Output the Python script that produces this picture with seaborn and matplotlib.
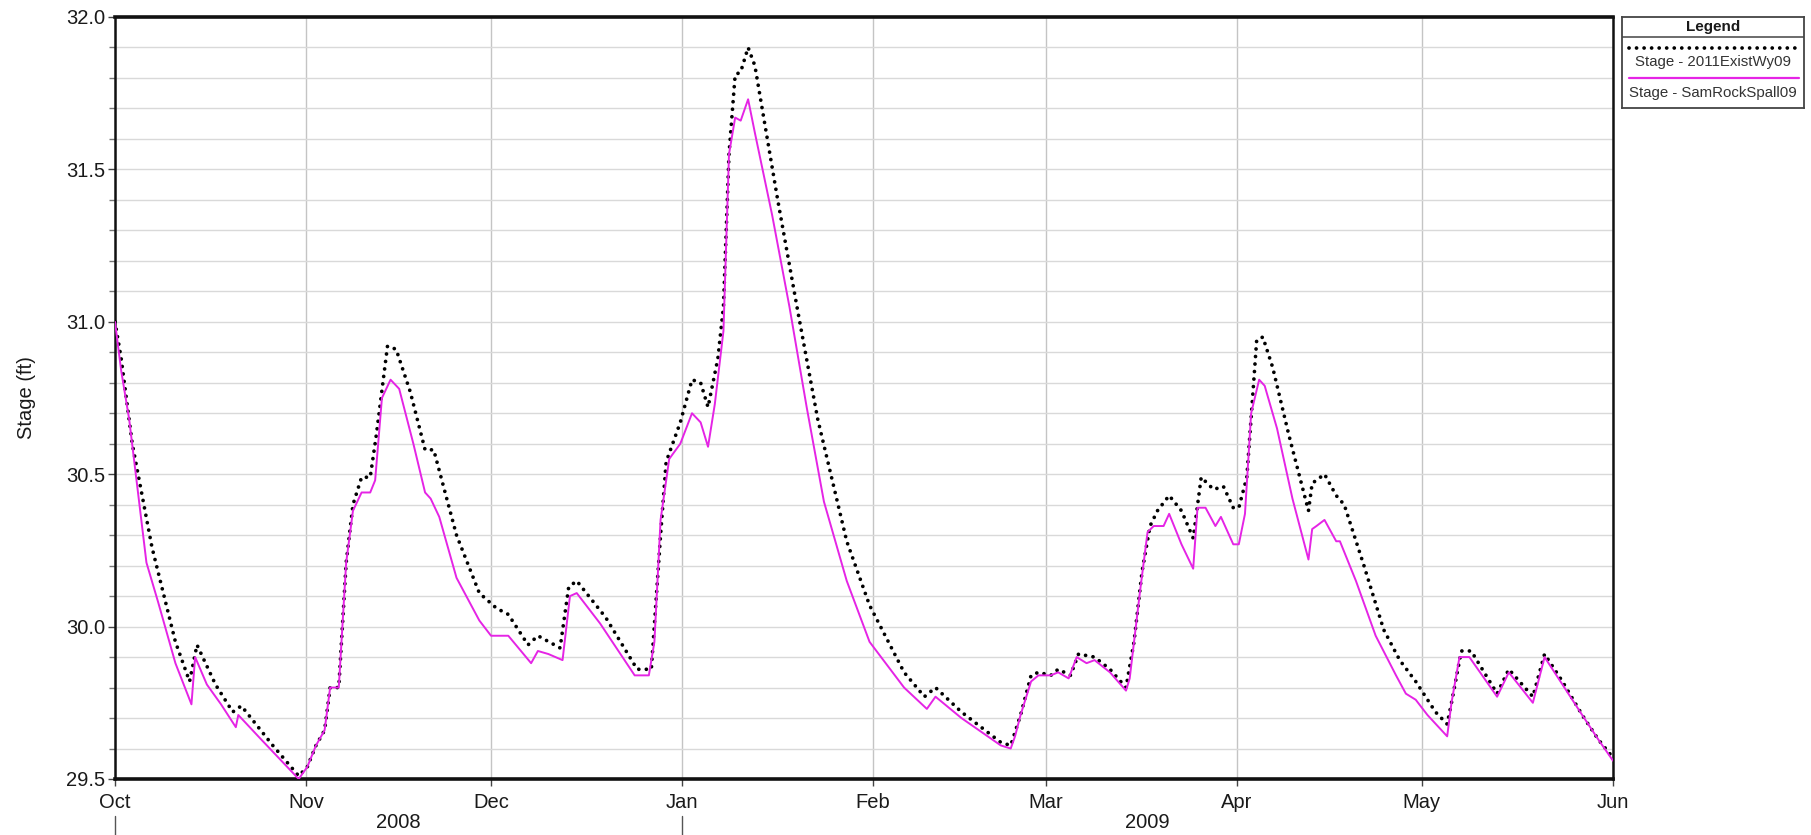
import numpy as np
import pandas as pd
import matplotlib
matplotlib.use("Agg")
import matplotlib.pyplot as plt
import matplotlib.dates as mdates
import matplotlib.transforms as mtransforms
from matplotlib.ticker import MultipleLocator, FormatStrFormatter
import seaborn as sns

# ---- data: days since 2008-10-01 and stage (ft) ----
exist_days = [0, 1.0, 2.8, 6.0, 9.8, 12.1, 13.3, 16.3, 19.1, 20.5, 25.6, 29.8, 31.2, 32.6,
              34.0, 34.9, 36.3, 37.5, 38.6, 40.0, 41.4, 42.4, 44.2, 45.6, 47.9, 50.3, 51.7,
              55.4, 59.1, 61.9, 63.8, 67.0, 68.6, 72.2, 73.6, 74.9, 79.6, 84.7, 87.0, 88.5,
              89.4, 91.7, 93.6, 95.0, 96.2, 97.8, 98.7, 99.6, 100.6, 101.5, 102.7, 103.8,
              107.5, 110.8, 114.0, 118.7, 122.4, 128.0, 131.3, 133.1, 137.3, 143.7, 145.3,
              146.9, 148.6, 149.8, 151.8, 153.0, 155.0, 156.3, 158.9, 161.4, 164.0, 165.3,
              166.6, 167.9, 169.1, 171.0, 173.0, 174.9, 176.2, 178.2, 179.8, 181.4, 182.3,
              183.6, 184.6, 185.2, 186.2, 187.8, 190.4, 193.6, 194.2, 196.2, 198.1, 199.4,
              202.6, 205.8, 208.4, 211.0, 214.2, 216.1, 216.8, 218.4, 220.0, 224.2, 226.1,
              230.0, 231.9, 234.8, 238.0, 240.6, 243.0]
exist_stage = [31.00, 30.88, 30.60, 30.26, 29.95, 29.82, 29.94, 29.81, 29.72, 29.74, 29.61,
               29.51, 29.54, 29.61, 29.66, 29.80, 29.80, 30.21, 30.40, 30.49, 30.49, 30.63,
               30.92, 30.91, 30.77, 30.58, 30.58, 30.30, 30.11, 30.06, 30.04, 29.94, 29.97,
               29.93, 30.13, 30.15, 30.03, 29.86, 29.86, 30.30, 30.54, 30.67, 30.81, 30.80,
               30.72, 30.88, 31.05, 31.55, 31.81, 31.82, 31.90, 31.84, 31.40, 31.03, 30.68,
               30.28, 30.07, 29.85, 29.77, 29.80, 29.72, 29.62, 29.61, 29.71, 29.84, 29.85,
               29.84, 29.86, 29.84, 29.91, 29.90, 29.86, 29.80, 29.95, 30.18, 30.33, 30.38,
               30.43, 30.38, 30.29, 30.49, 30.45, 30.46, 30.39, 30.39, 30.49, 30.77, 30.94,
               30.95, 30.85, 30.63, 30.38, 30.47, 30.50, 30.43, 30.40, 30.20, 29.99, 29.89,
               29.82, 29.72, 29.68, 29.75, 29.92, 29.92, 29.78, 29.86, 29.77, 29.91, 29.82,
               29.71, 29.63, 29.57]

spall_days = [0, 1.0, 2.3, 5.1, 7.0, 9.8, 12.4, 13.0, 14.9, 17.2, 19.6, 20.0, 23.7, 29.8,
              31.2, 32.6, 34.0, 34.9, 36.3, 37.5, 38.6, 40.0, 41.4, 42.2, 43.3, 44.7, 46.1,
              48.4, 50.3, 51.2, 52.6, 55.4, 59.1, 61.0, 63.8, 67.5, 68.6, 70.3, 72.6, 73.8,
              74.9, 78.7, 84.3, 86.6, 87.5, 88.5, 89.9, 91.7, 93.6, 95.0, 96.2, 97.3, 98.7,
              99.6, 100.6, 101.5, 102.7, 103.8, 106.6, 109.4, 112.2, 115.0, 118.7, 122.4,
              128.0, 131.7, 133.1, 137.3, 143.7, 145.3, 146.0, 146.9, 148.6, 149.8, 151.8,
              153.0, 154.7, 156.0, 157.6, 158.9, 161.4, 164.0, 164.6, 166.3, 167.5, 168.5,
              170.1, 171.0, 173.0, 174.9, 175.6, 176.9, 178.5, 179.4, 181.4, 182.3, 183.3,
              184.3, 185.6, 186.5, 188.5, 191.0, 193.6, 194.2, 194.9, 196.2, 198.1, 198.7,
              201.3, 204.5, 207.8, 209.4, 211.0, 212.9, 216.1, 216.8, 218.1, 219.7, 224.2,
              226.1, 230.0, 231.9, 234.8, 238.0, 240.6, 243.0]
spall_stage = [31.00, 30.84, 30.68, 30.21, 30.08, 29.88, 29.745, 29.90, 29.81, 29.745, 29.67,
               29.71, 29.63, 29.50, 29.54, 29.61, 29.66, 29.80, 29.80, 30.21, 30.38, 30.44,
               30.44, 30.48, 30.75, 30.81, 30.78, 30.60, 30.44, 30.42, 30.36, 30.16, 30.02,
               29.97, 29.97, 29.88, 29.92, 29.91, 29.89, 30.10, 30.11, 30.01, 29.84, 29.84,
               29.95, 30.35, 30.55, 30.60, 30.70, 30.67, 30.59, 30.73, 30.97, 31.55, 31.67,
               31.66, 31.73, 31.62, 31.35, 31.05, 30.72, 30.41, 30.15, 29.95, 29.80, 29.73,
               29.77, 29.70, 29.61, 29.60, 29.64, 29.71, 29.82, 29.84, 29.84, 29.85, 29.83,
               29.90, 29.88, 29.89, 29.85, 29.79, 29.83, 30.12, 30.31, 30.33, 30.33, 30.37,
               30.27, 30.19, 30.39, 30.39, 30.33, 30.36, 30.27, 30.27, 30.37, 30.70, 30.81,
               30.79, 30.65, 30.42, 30.22, 30.32, 30.33, 30.35, 30.28, 30.28, 30.15, 29.97,
               29.84, 29.78, 29.76, 29.71, 29.64, 29.75, 29.90, 29.90, 29.77, 29.85, 29.75,
               29.90, 29.81, 29.71, 29.63, 29.56]

series_names = ["Stage - 2011ExistWy09", "Stage - SamRockSpall09"]
year_labels = ["2008", "2009"]
y_label = "Stage (ft)"

start = pd.Timestamp("2008-10-01")
end = pd.Timestamp("2009-06-01")


def to_dates(days):
    return start + pd.to_timedelta(np.asarray(days, dtype=float), unit="D")


exist_df = pd.DataFrame({"date": to_dates(exist_days), "stage": exist_stage})
spall_df = pd.DataFrame({"date": to_dates(spall_days), "stage": spall_stage})

# ---- styling ----
sns.set_theme(style="white")
plt.rcParams["font.family"] = ["Liberation Sans", "DejaVu Sans"]
text_color = "#1a1a1a"
magenta = "#e524e5"
dot_lw = 2.7
dot_style = (0, (0.01, 2.0))

fig = plt.figure(figsize=(18.11, 8.35), dpi=100)
W, H = 1811, 835
ax_l, ax_r, ax_t, ax_b = 115, 1613, 17, 779
ax = fig.add_axes([ax_l / W, 1 - ax_b / H, (ax_r - ax_l) / W, (ax_b - ax_t) / H])

sns.lineplot(data=spall_df, x="date", y="stage", ax=ax, color=magenta, linewidth=1.4,
             estimator=None, sort=False, legend=False)
sns.lineplot(data=exist_df, x="date", y="stage", ax=ax, color="black", linewidth=dot_lw,
             estimator=None, sort=False, legend=False)
dotted = ax.lines[-1]
dotted.set_linestyle(dot_style)
dotted.set_dash_capstyle("round")
dotted.set_zorder(3)
ax.lines[0].set_zorder(4)

ax.set_xlim(start, end)
ax.set_ylim(29.5, 32.0)

# axes: month ticks, 0.5 ft major and 0.1 ft minor stage ticks
ax.xaxis.set_major_locator(mdates.MonthLocator())
ax.xaxis.set_major_formatter(mdates.DateFormatter("%b"))
ax.yaxis.set_major_locator(MultipleLocator(0.5))
ax.yaxis.set_minor_locator(MultipleLocator(0.1))
ax.yaxis.set_major_formatter(FormatStrFormatter("%.1f"))

ax.grid(True, which="major", axis="x", color="#c4c4c4", linewidth=1.0)
ax.grid(True, which="both", axis="y", color="#d9d9d9", linewidth=1.0)
ax.set_axisbelow(True)

ax.tick_params(axis="x", which="major", direction="out", length=5, width=1.0,
               color="#444444", labelsize=14.5, labelcolor=text_color, pad=5, bottom=True)
ax.tick_params(axis="y", which="major", direction="out", length=5, width=1.0,
               color="#444444", labelsize=14.5, labelcolor=text_color, pad=2, left=True)
ax.tick_params(axis="y", which="minor", direction="out", length=4, width=1.0,
               color="#777777", left=True)

for side, spine in ax.spines.items():
    spine.set_visible(True)
    spine.set_color("#111111")
    spine.set_linewidth(2.6 if side in ("top", "bottom") else 1.8)

ax.set_xlabel("")
ax.set_ylabel(y_label, fontsize=14.5, color=text_color, labelpad=22)

# year band beneath the month labels
trans = mtransforms.blended_transform_factory(ax.transData, ax.transAxes)
ax_h = ax_b - ax_t
sep_top = -(816 - ax_b) / ax_h
sep_bot = -(835 - ax_b) / ax_h
year_y = -(822 - ax_b) / ax_h
year_edges = [pd.Timestamp("2008-10-01"), pd.Timestamp("2009-01-01"), end]
for edge in year_edges[:2]:
    ax.plot([edge, edge], [sep_top, sep_bot], transform=trans, color="#555555",
            linewidth=1.0, clip_on=False)
for label, a, b in zip(year_labels, year_edges[:-1], year_edges[1:]):
    mid = a + (b - a) / 2
    ax.text(mid, year_y, label, transform=trans, ha="center", va="center",
            fontsize=14.5, color=text_color)

# legend panel
lx0, lx1, ly0, ly1 = 1622, 1804, 17, 108
lax = fig.add_axes([lx0 / W, 1 - ly1 / H, (lx1 - lx0) / W, (ly1 - ly0) / H])
lax.set_xlim(0, 1)
lax.set_ylim(0, 1)
lax.set_xticks([])
lax.set_yticks([])
for spine in lax.spines.values():
    spine.set_visible(True)
    spine.set_color("#444444")
    spine.set_linewidth(1.3)
lh = ly1 - ly0


def ly(px):
    return (ly1 - px) / lh


lax.axhline(ly(37), color="#444444", linewidth=1.1)
lax.text(0.5, ly(27), "Legend", ha="center", va="center", fontsize=11,
         fontweight="bold", color=text_color)
leg_dot, = lax.plot([0.04, 0.97], [ly(48), ly(48)], color="black", linewidth=dot_lw)
leg_dot.set_linestyle(dot_style)
leg_dot.set_dash_capstyle("round")
lax.text(0.5, ly(62), series_names[0], ha="center", va="center", fontsize=10.8,
         color="#333333")
lax.plot([0.04, 0.97], [ly(78), ly(78)], color=magenta, linewidth=1.6)
lax.text(0.5, ly(93), series_names[1], ha="center", va="center", fontsize=10.8,
         color="#333333")

fig.savefig("out.png", dpi=100, facecolor="white")
